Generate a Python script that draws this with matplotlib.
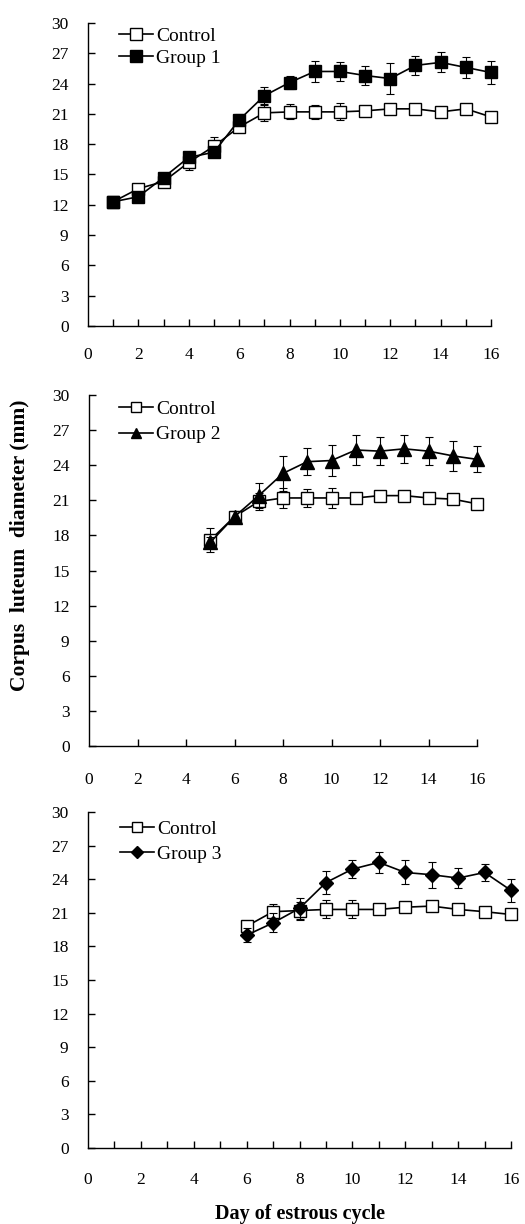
import matplotlib
matplotlib.use("Agg")
import matplotlib.pyplot as plt
import numpy as np

plt.rcParams["font.family"] = ["Liberation Serif", "DejaVu Serif"]

# panel 1: days 1-16
days1 = list(range(1, 17))
control1 = [12.3, 13.6, 14.3, 16.2, 17.8, 19.7, 21.1, 21.2, 21.2, 21.2, 21.3, 21.5, 21.5, 21.2, 21.5, 20.7]
control1_err = [0.3, 0.3, 0.3, 0.8, 0.9, 0.5, 0.8, 0.75, 0.7, 0.85, 0.4, 0.4, 0.4, 0.4, 0.4, 0.4]
group1 = [12.3, 12.8, 14.7, 16.7, 17.2, 20.4, 22.8, 24.1, 25.2, 25.2, 24.8, 24.5, 25.8, 26.1, 25.6, 25.1]
group1_err = [0.3, 0.3, 0.3, 0.4, 0.4, 0.6, 0.85, 0.66, 1.0, 0.93, 0.9, 1.5, 0.96, 1.0, 1.0, 1.15]

# panel 2: days 5-16
days2 = list(range(5, 17))
control2 = [17.6, 19.6, 20.9, 21.2, 21.2, 21.2, 21.2, 21.4, 21.4, 21.2, 21.1, 20.7]
control2_err = [1.0, 0.4, 0.7, 0.85, 0.8, 0.85, 0.4, 0.4, 0.4, 0.4, 0.4, 0.4]
group2 = [17.4, 19.6, 21.4, 23.3, 24.3, 24.4, 25.3, 25.2, 25.4, 25.2, 24.8, 24.5]
group2_err = [0.5, 0.5, 1.05, 1.5, 1.15, 1.35, 1.25, 1.2, 1.2, 1.2, 1.3, 1.1]

# panel 3: days 6-16
days3 = list(range(6, 17))
control3 = [19.8, 21.1, 21.2, 21.3, 21.3, 21.3, 21.5, 21.6, 21.3, 21.1, 20.85]
control3_err = [0.4, 0.7, 0.8, 0.8, 0.8, 0.4, 0.4, 0.4, 0.4, 0.4, 0.4]
group3 = [19.0, 20.1, 21.4, 23.7, 24.9, 25.5, 24.6, 24.4, 24.1, 24.6, 23.0]
group3_err = [0.6, 0.85, 0.95, 1.04, 0.83, 0.95, 1.07, 1.16, 0.92, 0.8, 1.04]

yticks = [0, 3, 6, 9, 12, 15, 18, 21, 24, 27, 30]
xlabels = [0, 2, 4, 6, 8, 10, 12, 14, 16]

W, H = 525, 1224
fig = plt.figure(figsize=(W / 100, H / 100), dpi=100)


def px_axes(left, right, top, bottom):
    return fig.add_axes([left / W, 1 - bottom / H, (right - left) / W, (bottom - top) / H])


# axes, data, group name, marker, marker size, x tick step,
# legend spacing, legend top, legend marker scale
panels = [
    (px_axes(88, 491, 23, 326), days1, control1, control1_err, group1, group1_err,
     "Group 1", "s", 8.5, 1, 0.25, 1.012, 1.0),
    (px_axes(89, 477, 395, 746), days2, control2, control2_err, group2, group2_err,
     "Group 2", "^", 9.5, 2, 0.4, 1.007, 0.78),
    (px_axes(88, 511, 812, 1148), days3, control3, control3_err, group3, group3_err,
     "Group 3", "D", 7.5, 1, 0.4, 0.999, 0.78),
]

for ax, d, c, ce, g, ge, name, mk, ms, step, lsp, ltop, mscale in panels:
    ax.errorbar(d, c, yerr=ce, fmt="none", ecolor="black", elinewidth=0.8,
                capsize=3, capthick=0.8, zorder=1, clip_on=False)
    ax.plot(d, c, color="black", lw=1.2, marker="s", ms=8.5, mfc="white",
            mec="black", mew=1.0, label="Control", zorder=2, clip_on=False)
    ax.errorbar(d, g, yerr=ge, fmt="none", ecolor="black", elinewidth=0.8,
                capsize=3, capthick=0.8, zorder=3, clip_on=False)
    ax.plot(d, g, color="black", lw=1.2, marker=mk, ms=ms, mfc="black",
            mec="black", label=name, zorder=4, clip_on=False)
    ax.set_xlim(0, 16)
    ax.set_ylim(0, 30)
    ax.set_yticks(yticks)
    ax.set_xticks(np.arange(step, 17, step))
    ax.set_xticklabels([])
    for v in xlabels:
        ax.text(v, -2.9, str(v), ha="center", va="center", fontsize=12.5)
    ax.spines["top"].set_visible(False)
    ax.spines["right"].set_visible(False)
    ax.spines["left"].set_linewidth(1.0)
    ax.spines["bottom"].set_linewidth(1.0)
    ax.tick_params(axis="y", direction="in", length=5, width=1.0, pad=14, labelsize=12.5)
    ax.tick_params(axis="x", direction="in", length=5, width=1.0)
    ax.legend(loc="upper left", bbox_to_anchor=(0.058, ltop), frameon=False,
              fontsize=14, handlelength=1.75, handletextpad=0.15,
              labelspacing=lsp, borderaxespad=0.0, markerscale=mscale)

fig.text(20 / W, 1 - 545 / H, "Corpus  luteum  diameter (mm)", rotation=90,
         ha="center", va="center", fontsize=15.5, fontweight="bold")
fig.text(300 / W, 1 - 1214 / H, "Day of estrous cycle", ha="center", va="center",
         fontsize=14.5, fontweight="bold")

fig.savefig("out.png", dpi=100)
